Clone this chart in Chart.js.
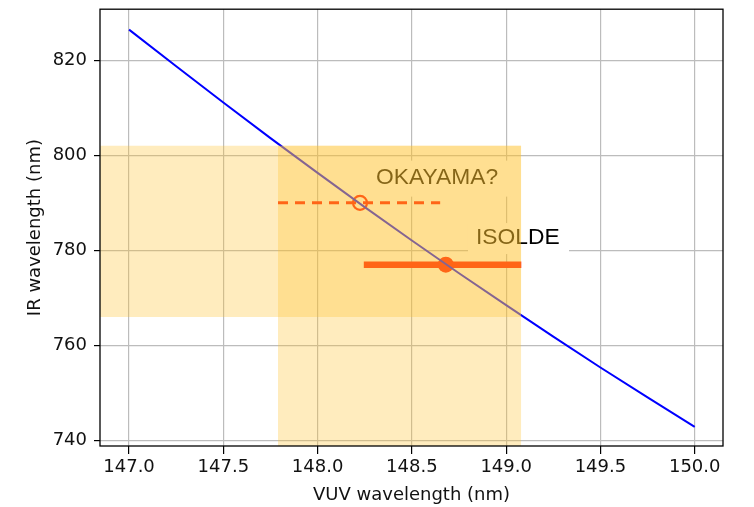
<!DOCTYPE html>
<html>
<head>
<meta charset="utf-8">
<script src="https://cdn.jsdelivr.net/npm/chart.js@4/dist/chart.umd.min.js"></script>
<style>
  html, body { margin: 0; padding: 0; background: #fff; }
  #c { display: block; }
</style>
</head>
<body>
<canvas id="c" width="754" height="507"></canvas>
<script>
// Courbe IR / VUV avec les fenêtres ISOLDE et OKAYAMA

// --- données ---
const vuv = [147.0, 147.25, 147.5, 147.75, 148.0, 148.25, 148.5, 148.75, 149.0, 149.25, 149.5, 149.75, 150.0];
const ir  = [826.4, 818.7, 811.1, 803.6, 796.3, 789.1, 782.1, 775.2, 768.5, 761.9, 755.4, 749.1, 742.9];

const xTicks = [147.0, 147.5, 148.0, 148.5, 149.0, 149.5, 150.0];
const yTicks = [740, 760, 780, 800, 820];
const xRange = [146.846, 150.15];
const yRange = [738.9, 830.7];

// zones colorées
const vuvBand = [147.79, 149.08];   // bande verticale
const irBand = [766, 802];          // bande horizontale

// mesures
const isoldeX = [148.68];
const isoldeY = [777];
const isoldeRange = [148.245, 149.08];
const okayamaX = [148.225];
const okayamaY = [790];
const okayamaRange = [147.79, 148.65];

const pts = (xs, ys) => xs.map((x, i) => ({ x, y: ys[i] }));
const shade = 'rgba(255, 194, 45, 0.31)';
const rouge = 'rgb(255, 0, 0)';
const police = 'DejaVu Sans';

// étiquettes avec fond blanc, dessinées sous les zones colorées
const labels = [
  { text: 'OKAYAMA?', x: 148.31, y: 795.3, box: [-8, -17, 142, 36] },
  { text: 'ISOLDE', x: 148.84, y: 782.6, box: [-8, -15, 101, 31] },
];

const labelPlugin = {
  id: 'labels',
  afterDatasetDraw(chart, args) {
    if (args.index !== 2) return;
    const { ctx, scales: { x, y } } = chart;
    ctx.save();
    ctx.font = '22.8px "Liberation Sans", Arial, sans-serif';
    ctx.textBaseline = 'middle';
    labels.forEach(l => {
      const px = x.getPixelForValue(l.x);
      const py = y.getPixelForValue(l.y);
      ctx.fillStyle = '#fff';
      ctx.fillRect(px + l.box[0], py + l.box[1], l.box[2], l.box[3]);
      ctx.fillStyle = '#000';
      ctx.fillText(l.text, px, py);
    });
    ctx.restore();
  },
};

const framePlugin = {
  id: 'frame',
  afterDatasetsDraw(chart) {
    const { ctx, chartArea: a } = chart;
    ctx.save();
    ctx.strokeStyle = '#000';
    ctx.lineWidth = 1.3;
    ctx.strokeRect(a.left, a.top, a.right - a.left, a.bottom - a.top);
    ctx.restore();
  },
};

new Chart(document.getElementById('c'), {
  type: 'scatter',
  data: {
    datasets: [
      { // bande horizontale
        data: pts([xRange[0], vuvBand[1]], [irBand[1], irBand[1]]),
        showLine: true, borderWidth: 0, pointRadius: 0,
        backgroundColor: shade, fill: { value: irBand[0] }, order: 0,
      },
      { // bande verticale
        data: pts(vuvBand, [irBand[1], irBand[1]]),
        showLine: true, borderWidth: 0, pointRadius: 0,
        backgroundColor: shade, fill: 'start', order: 0,
      },
      {
        data: pts(vuv, ir),
        showLine: true, borderColor: '#0000ff', borderWidth: 2,
        pointRadius: 0, fill: false, order: 2,
      },
      {
        data: pts(isoldeRange, [isoldeY[0], isoldeY[0]]),
        showLine: true, borderColor: rouge, borderWidth: 6.5,
        pointRadius: 0, fill: false, order: 3,
      },
      {
        data: pts(isoldeX, isoldeY),
        pointRadius: 8, backgroundColor: rouge, borderWidth: 0, order: 3,
      },
      {
        data: pts(okayamaRange, [okayamaY[0], okayamaY[0]]),
        showLine: true, borderColor: rouge, borderWidth: 3, borderDash: [10, 7],
        pointRadius: 0, fill: false, order: 4,
      },
      {
        data: pts(okayamaX, okayamaY),
        pointRadius: 7, backgroundColor: 'rgba(0,0,0,0)',
        borderColor: rouge, borderWidth: 2.2, order: 4,
      },
    ],
  },
  options: {
    responsive: false,
    animation: false,
    events: [],
    layout: { padding: { top: 8, right: 31, left: 0, bottom: 0 } },
    plugins: { legend: { display: false }, tooltip: { enabled: false } },
    scales: {
      x: {
        type: 'linear',
        min: xRange[0], max: xRange[1],
        afterBuildTicks: (s) => { s.ticks = xTicks.map(v => ({ value: v })); },
        afterFit: (s) => { s.height = 61; s.paddingLeft = 0; s.paddingRight = 0; },
        border: { display: false },
        grid: { color: '#bcbcbc', lineWidth: 1.2, tickColor: '#000', tickLength: 8, tickWidth: 1.2 },
        ticks: {
          color: '#111', padding: 3,
          font: { family: police, size: 18 },
          callback: (v) => Number(v).toFixed(1),
        },
        title: {
          display: true, text: 'VUV wavelength (nm)', color: '#111',
          font: { family: police, size: 18 }, padding: { top: 0, bottom: 1 },
        },
      },
      y: {
        type: 'linear',
        min: yRange[0], max: yRange[1],
        afterBuildTicks: (s) => { s.ticks = yTicks.map(v => ({ value: v })); },
        afterFit: (s) => { s.width = 100; s.paddingTop = 0; s.paddingBottom = 0; },
        border: { display: false },
        grid: { color: '#bcbcbc', lineWidth: 1.2, tickColor: '#000', tickLength: 6, tickWidth: 1.2 },
        ticks: {
          color: '#111', padding: 7,
          font: { family: police, size: 18 },
          callback: (v) => String(v),
        },
        title: {
          display: true, text: 'IR wavelength (nm)', color: '#111',
          font: { family: police, size: 18 }, padding: { top: 25, bottom: 0 },
        },
      },
    },
  },
  plugins: [labelPlugin, framePlugin],
});
</script>
</body>
</html>
